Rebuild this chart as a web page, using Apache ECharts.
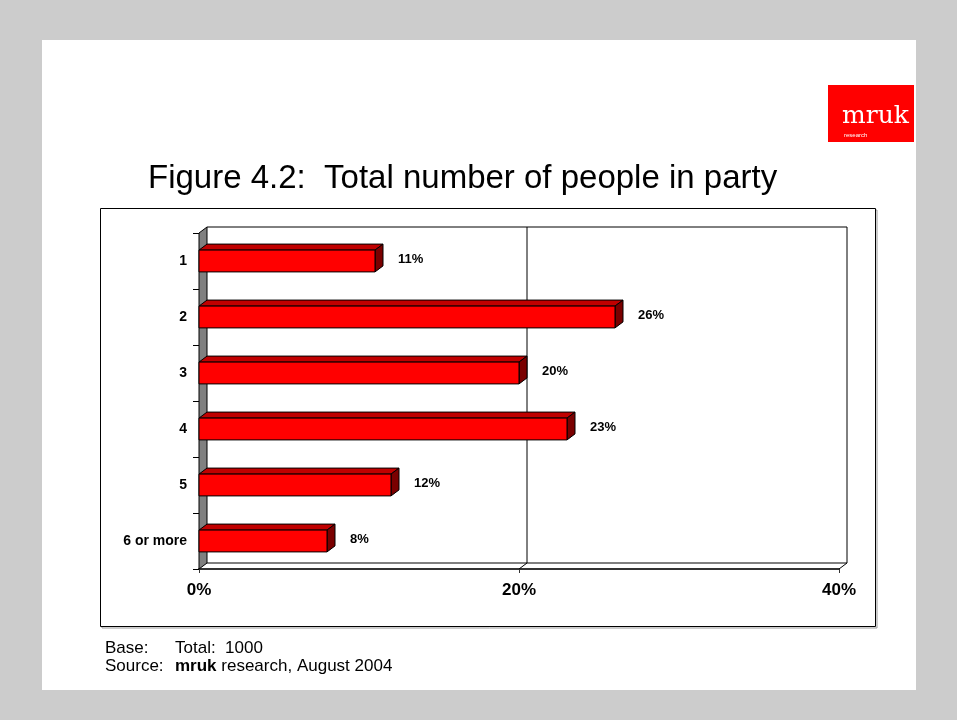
<!DOCTYPE html>
<html>
<head>
<meta charset="utf-8">
<script src="https://cdn.jsdelivr.net/npm/echarts@6/dist/echarts.min.js"></script>
<style>
  html, body { margin: 0; padding: 0; background: #cccccc; }
  #chart { width: 957px; height: 720px; }
</style>
</head>
<body>
<div id="chart"></div>
<script>
// Party size categories and share of respondents (%)
const categories = ['1', '2', '3', '4', '5', '6 or more'];
const shares = [11, 26, 20, 23, 12, 8];
const xTicks = [0, 20, 40];

const DX = 8, DY = 6;           // depth offset of the 3D look
const FONT = '"Liberation Sans", Arial, sans-serif';

const chart = echarts.init(document.getElementById('chart'), null, { renderer: 'canvas' });

// Back wall, floor, gridlines and the grey side wall
function renderWalls(params, api) {
  const cs = params.coordSys;
  const x = cs.x, y = cs.y, w = cs.width, h = cs.height;
  const line = (x1, y1, x2, y2, c, lw) => ({
    type: 'line', shape: { x1, y1, x2, y2 },
    style: { stroke: c || '#000', lineWidth: lw || 1 }
  });
  const els = [
    line(x + DX, y - DY, x + w + DX, y - DY),
    line(x + w + DX, y - DY, x + w + DX, y + h - DY),
    line(x + DX, y + h - DY, x + w + DX, y + h - DY),
    line(x + w, y + h, x + w + DX, y + h - DY)
  ];
  xTicks.slice(1, -1).forEach(t => {
    const px = api.coord([t, 0])[0];
    els.push(line(px + DX, y - DY, px + DX, y + h - DY));
    els.push(line(px, y + h, px + DX, y + h - DY));
  });
  els.push({
    type: 'polygon',
    shape: { points: [[x, y], [x + DX, y - DY], [x + DX, y + h - DY], [x, y + h]] },
    style: { fill: '#808080', stroke: '#000', lineWidth: 1 }
  });
  return { type: 'group', children: els };
}

// One 3D bar: front face, top face, side face and its value label
function renderBar(params, api) {
  const v = api.value(0);
  const ci = api.value(1);
  const s = api.coord([0, ci]);
  const e = api.coord([v, ci]);
  const bh = api.size([0, 1])[1] * 0.39;
  const x0 = s[0], x1 = e[0], yc = s[1];
  const yt = yc - bh / 2, yb = yc + bh / 2;
  return {
    type: 'group',
    children: [
      { type: 'polygon',
        shape: { points: [[x0, yt], [x0 + DX, yt - DY], [x1 + DX, yt - DY], [x1, yt]] },
        style: { fill: '#c00000', stroke: '#000', lineWidth: 1 } },
      { type: 'polygon',
        shape: { points: [[x1, yt], [x1 + DX, yt - DY], [x1 + DX, yb - DY], [x1, yb]] },
        style: { fill: '#7a0000', stroke: '#000', lineWidth: 1 } },
      { type: 'rect',
        shape: { x: x0, y: yt, width: x1 - x0, height: bh },
        style: { fill: '#ff0000', stroke: '#000', lineWidth: 1 } },
      { type: 'text',
        style: { x: x1 + DX + 15, y: yc - 2, text: v + '%',
                 font: 'bold 13px ' + FONT, fill: '#000',
                 textAlign: 'left', textVerticalAlign: 'middle' } }
    ]
  };
}

const option = {
  backgroundColor: '#cccccc',
  animation: false,
  graphic: [
    { type: 'rect', z: -10, shape: { x: 42, y: 40, width: 874, height: 650 },
      style: { fill: '#ffffff' } },
    // logo
    { type: 'rect', z: -5, shape: { x: 828, y: 85, width: 86, height: 57 },
      style: { fill: '#ff0000' } },
    { type: 'text', z: -4, style: { x: 842, y: 129, text: 'mruk',
        font: '25px "DejaVu Serif", "Liberation Serif", serif', fill: '#ffffff',
        textVerticalAlign: 'bottom' } },
    { type: 'text', z: -4, style: { x: 844, y: 135, text: 'research',
        font: '6px ' + FONT, fill: '#ffffff', textVerticalAlign: 'middle' } },
    // title
    { type: 'text', z: -4, style: { x: 148, y: 179, text: 'Figure 4.2:  Total number of people in party',
        font: '33px ' + FONT, fill: '#000', textVerticalAlign: 'middle' } },
    // chart frame with a soft shadow
    { type: 'rect', z: -6, shape: { x: 102, y: 210, width: 775, height: 418 },
      style: { fill: 'none', stroke: '#999999', lineWidth: 1 } },
    { type: 'rect', z: -5, shape: { x: 100.5, y: 208.5, width: 775, height: 418 },
      style: { fill: '#ffffff', stroke: '#000000', lineWidth: 1 } },
    // footnotes
    { type: 'text', z: -4, style: { x: 105, y: 648, text: 'Base:', font: '17px ' + FONT,
        fill: '#000', textVerticalAlign: 'middle' } },
    { type: 'text', z: -4, style: { x: 175, y: 648, text: 'Total:  1000', font: '17px ' + FONT,
        fill: '#000', textVerticalAlign: 'middle' } },
    { type: 'text', z: -4, style: { x: 105, y: 666, text: 'Source:', font: '17px ' + FONT,
        fill: '#000', textVerticalAlign: 'middle' } },
    { type: 'text', z: -4, style: { x: 175, y: 666,
        text: '{b|mruk} research, August 2004',
        rich: { b: { font: 'bold 17px ' + FONT, fill: '#000' } },
        font: '17px ' + FONT, fill: '#000', textVerticalAlign: 'middle' } }
  ],
  grid: { left: 199, top: 233, width: 640, height: 336, containLabel: false },
  xAxis: {
    type: 'value', min: 0, max: 40, interval: 20,
    axisLine: { show: true, lineStyle: { color: '#333333', width: 2 } },
    axisTick: { show: true, length: 4, lineStyle: { color: '#333333' } },
    splitLine: { show: false },
    axisLabel: { formatter: '{value}%', fontFamily: FONT, fontWeight: 'bold',
                 fontSize: 17, color: '#000', margin: 13 }
  },
  yAxis: {
    type: 'category', data: categories, inverse: true,
    axisLine: { show: false },
    axisTick: { show: true, length: 6, lineStyle: { color: '#000' } },
    axisLabel: { fontFamily: FONT, fontWeight: 'bold', fontSize: 14, color: '#000', margin: 12 },
    splitLine: { show: false }
  },
  series: [
    { type: 'custom', name: 'walls', z: 1, silent: true,
      renderItem: renderWalls, data: [[0, 0]] },
    { type: 'custom', name: 'share', z: 3,
      renderItem: renderBar,
      encode: { x: 0, y: 1 },
      data: shares.map((v, i) => [v, i]) }
  ]
};

chart.setOption(option);
</script>
</body>
</html>
